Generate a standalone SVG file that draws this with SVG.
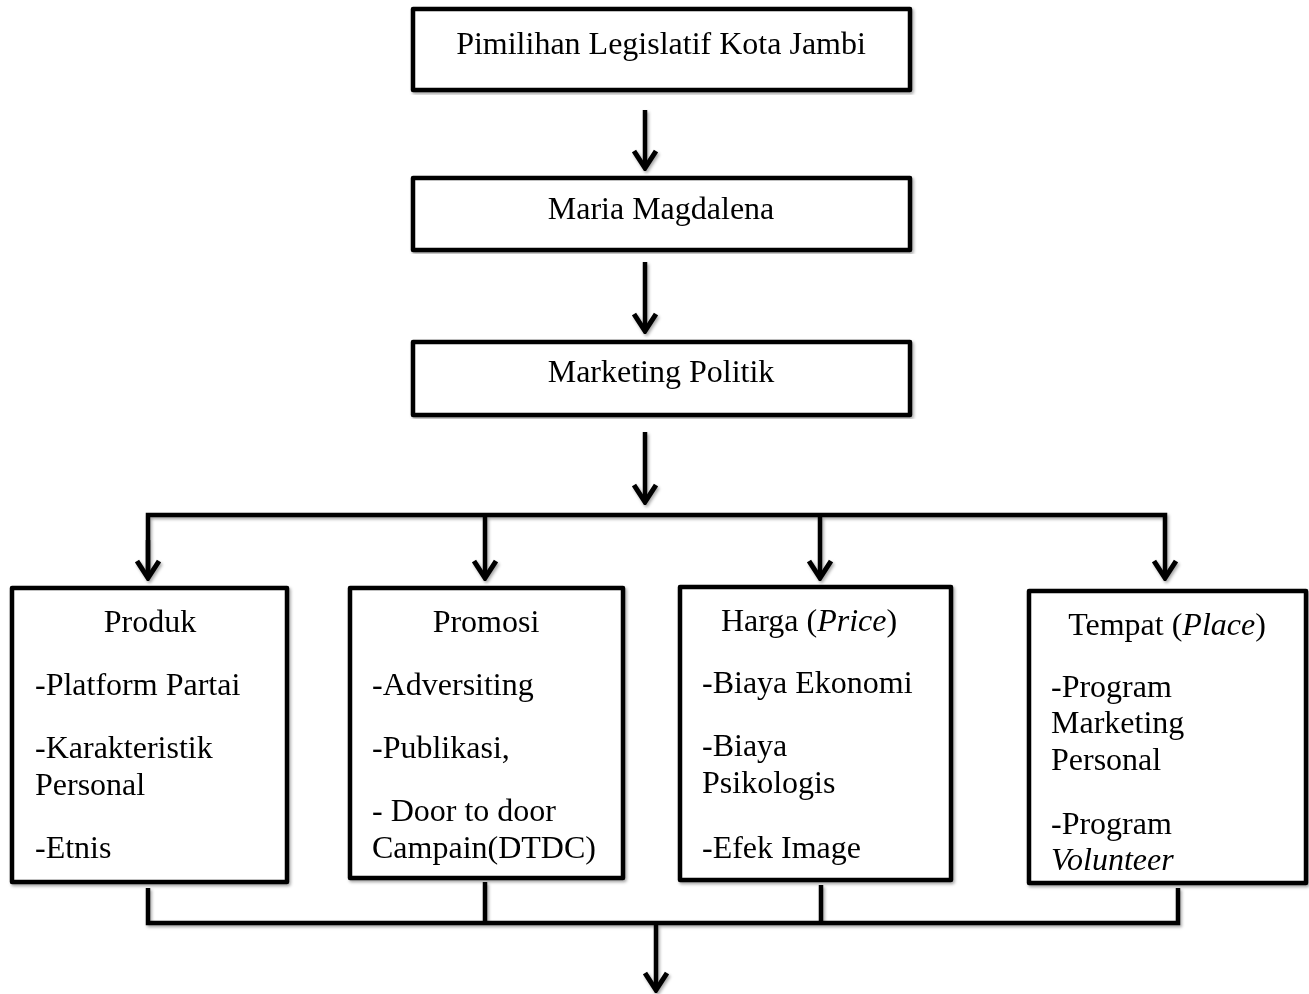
<svg xmlns="http://www.w3.org/2000/svg" width="1309" height="994" viewBox="0 0 1309 994">
<style>
.box{fill:#fff;stroke:#000;stroke-width:4.5;stroke-linejoin:round}
.ln{fill:none;stroke:#000;stroke-width:4.5;stroke-linecap:butt}
text{font-family:"Liberation Serif","Times New Roman",serif;font-size:32px;fill:#000}
.c{text-anchor:middle}
</style>
<defs>
<filter id="sh" x="-5%" y="-5%" width="110%" height="110%">
<feDropShadow dx="1.5" dy="2" stdDeviation="1.5" flood-color="#000" flood-opacity="0.35"/>
</filter>
<marker id="ah" viewBox="0 0 22 26" refX="19" refY="13" markerWidth="22" markerHeight="26" markerUnits="userSpaceOnUse" orient="auto">
<path d="M2,2 L19,13 L2,24" fill="none" stroke="#000" stroke-width="5" stroke-linejoin="miter"/>
</marker>
</defs>
<g id="connectors" filter="url(#sh)">
<line class="ln" x1="645" y1="110" x2="645" y2="168" marker-end="url(#ah)"/>
<line class="ln" x1="645" y1="262" x2="645" y2="331" marker-end="url(#ah)"/>
<line class="ln" x1="645" y1="432" x2="645" y2="502" marker-end="url(#ah)"/>
<polyline class="ln" points="148,578 148,515 1165,515 1165,578" marker-end="url(#ah)"/>
<line class="ln" x1="148" y1="540" x2="148" y2="578" marker-end="url(#ah)"/>
<line class="ln" x1="485" y1="515" x2="485" y2="578" marker-end="url(#ah)"/>
<line class="ln" x1="820" y1="515" x2="820" y2="578" marker-end="url(#ah)"/>
<polyline class="ln" points="148,888 148,923 1178,923 1178,888"/>
<line class="ln" x1="485" y1="882" x2="485" y2="923"/>
<line class="ln" x1="821" y1="885" x2="821" y2="923"/>
<line class="ln" x1="656" y1="923" x2="656" y2="990" marker-end="url(#ah)"/>
</g>
<g id="n1" filter="url(#sh)">
<rect class="box" x="413" y="9" width="497" height="81"/>
<text class="c" x="661" y="54">Pimilihan Legislatif Kota Jambi</text>
</g>
<g id="n2" filter="url(#sh)">
<rect class="box" x="413" y="178" width="497" height="72"/>
<text class="c" x="661" y="219">Maria Magdalena</text>
</g>
<g id="n3" filter="url(#sh)">
<rect class="box" x="413" y="342" width="497" height="73"/>
<text class="c" x="661" y="382">Marketing Politik</text>
</g>
<g id="produk" filter="url(#sh)">
<rect class="box" x="12" y="588" width="275" height="294"/>
<text class="c" x="150" y="632">Produk</text>
<text x="35" y="695">-Platform Partai</text>
<text x="35" y="758">-Karakteristik</text>
<text x="35" y="795">Personal</text>
<text x="35" y="858">-Etnis</text>
</g>
<g id="promosi" filter="url(#sh)">
<rect class="box" x="350" y="588" width="273" height="290"/>
<text class="c" x="486" y="632">Promosi</text>
<text x="372" y="695">-Adversiting</text>
<text x="372" y="758">-Publikasi,</text>
<text x="372" y="821">- Door to door</text>
<text x="372" y="858">Campain(DTDC)</text>
</g>
<g id="harga" filter="url(#sh)">
<rect class="box" x="680" y="587" width="271" height="293"/>
<text class="c" x="809" y="631">Harga (<tspan font-style="italic">Price</tspan>)</text>
<text x="702" y="693">-Biaya Ekonomi</text>
<text x="702" y="756">-Biaya</text>
<text x="702" y="793">Psikologis</text>
<text x="702" y="858">-Efek Image</text>
</g>
<g id="tempat" filter="url(#sh)">
<rect class="box" x="1029" y="591" width="277" height="292"/>
<text class="c" x="1167" y="635">Tempat (<tspan font-style="italic">Place</tspan>)</text>
<text x="1051" y="697">-Program</text>
<text x="1051" y="733">Marketing</text>
<text x="1051" y="770">Personal</text>
<text x="1051" y="834">-Program</text>
<text x="1051" y="870" font-style="italic">Volunteer</text>
</g>
</svg>
